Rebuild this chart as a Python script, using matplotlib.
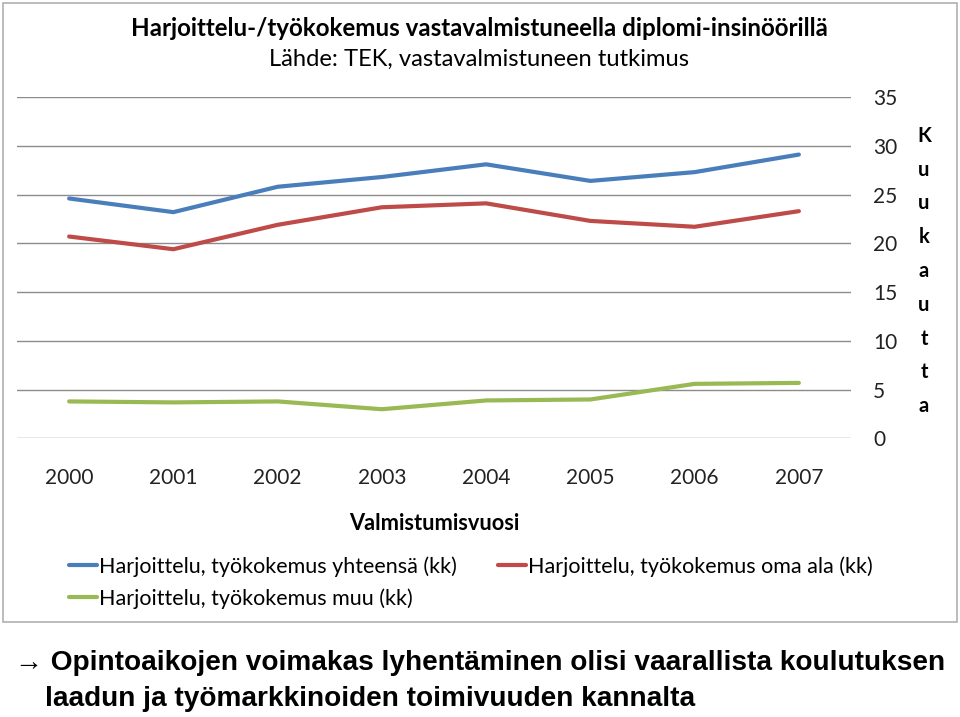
import matplotlib.pyplot as plt
from matplotlib.patches import Rectangle

# data
years = ['2000', '2001', '2002', '2003', '2004', '2005', '2006', '2007']
yhteensa = [24.6, 23.2, 25.8, 26.8, 28.1, 26.4, 27.3, 29.1]
oma_ala = [20.7, 19.4, 21.9, 23.7, 24.1, 22.3, 21.7, 23.3]
muu = [3.8, 3.7, 3.8, 3.0, 3.9, 4.0, 5.6, 5.7]
labels = ['Harjoittelu, työkokemus yhteensä (kk)',
          'Harjoittelu, työkokemus oma ala (kk)',
          'Harjoittelu, työkokemus muu (kk)']
colors = ['#4A7EBB', '#BE4B48', '#98B954']

plt.rcParams['font.family'] = ['Lato', 'DejaVu Sans']

fig = plt.figure(figsize=(9.6, 7.17), dpi=100)

# chart frame
fig.patches.append(Rectangle((3 / 960, 1 - 622 / 717), 954 / 960, 619 / 717,
                             transform=fig.transFigure, fill=False,
                             edgecolor='#b0b0b0', lw=1.2))

ax = fig.add_axes([17 / 960, 1 - 438.5 / 717, 834 / 960, 341.5 / 717])
x = range(len(years))
l1, = ax.plot(x, yhteensa, color=colors[0], lw=3, solid_capstyle='round')
l2, = ax.plot(x, oma_ala, color=colors[1], lw=3, solid_capstyle='round')
l3, = ax.plot(x, muu, color=colors[2], lw=3, solid_capstyle='round')

ax.set_xlim(-0.5, len(years) - 0.5)
ax.set_ylim(0, 35)
ax.set_yticks(range(0, 36, 5))
ax.yaxis.tick_right()
ax.set_xticks(list(x))
ax.set_xticklabels(years)
ax.tick_params(axis='both', length=0, labelsize=15, colors='#222222')
ax.tick_params(axis='y', pad=16)
ax.tick_params(axis='x', pad=21)
ax.grid(axis='y', color='#8c8c8c', lw=1)
ax.set_axisbelow(True)
for s in ax.spines.values():
    s.set_visible(False)
ax.set_xlabel('Valmistumisvuosi', fontsize=15.7, fontweight='bold', labelpad=18)

fig.text(0.5 * (128 + 830) / 960, 1 - 28 / 717,
         'Harjoittelu-/työkokemus vastavalmistuneella diplomi-insinöörillä',
         ha='center', va='center', fontsize=17.4, fontweight='bold')
fig.text(0.5 * (268 + 690) / 960, 1 - 59 / 717,
         'Lähde: TEK, vastavalmistuneen tutkimus',
         ha='center', va='center', fontsize=17.1)

fig.text(924 / 960, 1 - 271 / 717, '\n'.join('Kuukautta'),
         ha='center', va='center', fontsize=14.5, fontweight='bold',
         linespacing=1.86)

fig.legend([l1, l3, l2], [labels[0], labels[2], labels[1]], ncol=2,
           loc='center left', bbox_to_anchor=(58 / 960, 1 - 582.5 / 717),
           frameon=False, fontsize=15.5, handlelength=1.3, handletextpad=0.1,
           columnspacing=1.93, labelspacing=0.55, borderpad=0)

fig.text(15 / 960, 1 - 663 / 717,
         '\u2192 Opintoaikojen voimakas lyhentäminen olisi vaarallista koulutuksen',
         ha='left', va='center', fontsize=20.2, fontweight='bold',
         family=['Liberation Sans', 'DejaVu Sans'])
fig.text(45 / 960, 1 - 699 / 717,
         'laadun ja työmarkkinoiden toimivuuden kannalta',
         ha='left', va='center', fontsize=20.2, fontweight='bold',
         family=['Liberation Sans', 'DejaVu Sans'])

fig.savefig('out.png', dpi=100)
